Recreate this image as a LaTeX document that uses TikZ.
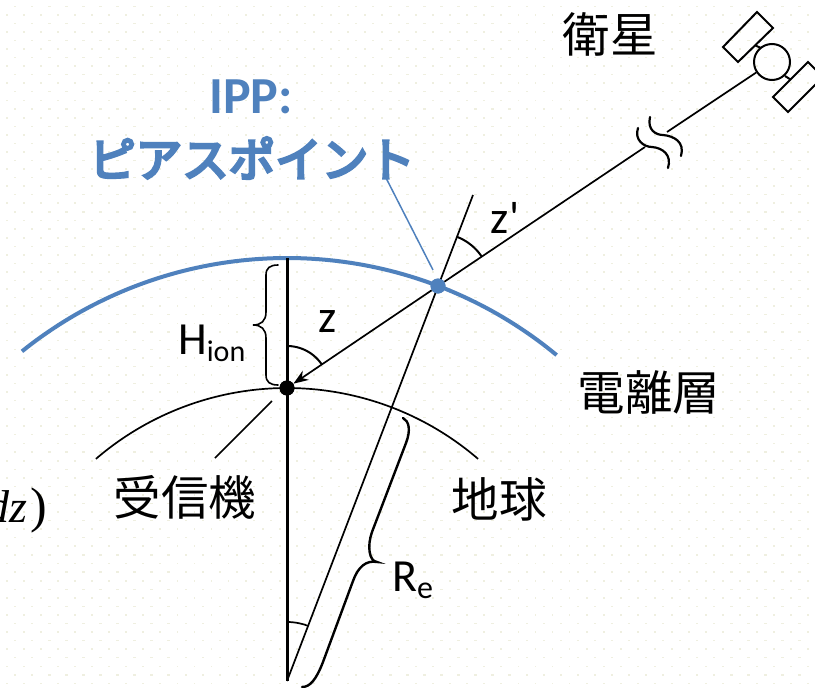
\documentclass[tikz,border=0pt]{standalone}
\usepackage{fontspec}
\usetikzlibrary{arrows.meta}
\setmainfont{Carlito}[Ligatures=TeXOff]
\newfontfamily\jpfont{Noto Sans CJK JP}
\newfontfamily\jpfontmed[FakeBold=6]{Noto Sans CJK JP}
\newfontfamily\serifit{Liberation Serif}
\definecolor{ippblue}{HTML}{4F81BD}
\definecolor{griddot}{HTML}{EFEFE0}
\tikzset{
  thinln/.style={black,line width=1.7pt},
  thickln/.style={black,line width=3pt},
  braceln/.style={black,line width=1.6pt,line cap=round},
  arcln/.style={black,line width=2pt},
  jplabel/.style={inner sep=0pt,font=\jpfont\fontsize{47.5}{52}\selectfont},
  latinlabel/.style={inner sep=0pt,font=\fontsize{46}{50}\selectfont},
  ipplabel/.style={inner sep=0pt,text=ippblue,font=\bfseries\fontsize{52}{56}\selectfont},
  dotnode/.style={circle,inner sep=0pt,minimum size=15pt},
}
\begin{document}
\begin{tikzpicture}[x=1pt,y=-1pt]
\useasboundingbox (0,0) rectangle (815,688);
\clip (0,0) rectangle (815,688);
\fill[white] (0,0) rectangle (815,688);
% dotted background
\foreach \i in {0,...,47}{\foreach \j in {0,...,40}{
  \fill[griddot] ({14+17.05*\i},{5.5+17.15*\j}) rectangle ++(2.4,1.2);
  \fill[griddot] ({6+17.05*\i},{13.8+17.15*\j}) rectangle ++(1.8,1.8);
}}
% named points
\coordinate (ctr) at (287,681);
\coordinate (top) at (287,258);
\coordinate (zeniTop) at (473,195);
\coordinate (brkA) at (645,147);
\coordinate (brkB) at (667,132);
\coordinate (rxA) at (272,401);
\coordinate (rxB) at (215,458);
\coordinate (ppA) at (384,174);
\coordinate (ppB) at (433,270);
% layers
\draw[ippblue,line width=4pt] plot[domain=-38.8:39.6,samples=90] ({287+423*sin(\x)},{681-423*cos(\x)});
\draw[thinln] plot[domain=-40.7:40.7,samples=90] ({287+293*sin(\x)},{681-293*cos(\x)});
% nodes
\node[dotnode,fill=black] (rx) at (287,388) {};
\node[dotnode,fill=ippblue] (ipp) at (438,286) {};
\node[circle,draw=black,line width=2pt,minimum size=36pt,inner sep=0pt] (satbody) at (772,62) {};
% lines
\draw[thickln] (top) -- (ctr);
\draw[thinln] (ctr) -- (zeniTop);
\draw[thinln,-{Stealth[length=15pt,width=11pt]}] (ipp) -- (rx);
\draw[thinln] (ipp) -- (brkA);
\draw[thinln] (brkB) -- (satbody);
\draw[ippblue,line width=1.5pt] (ppA) -- (ppB);
\node[dotnode,fill=ippblue] at (ipp) {};
\node[dotnode,fill=black] at (rx) {};
\draw[thinln] (rxA) -- (rxB);
% angle arcs
\draw[arcln] plot[domain=0:56,samples=30] ({287+42*sin(\x)},{388-42*cos(\x)});
\draw[arcln] plot[domain=21:56,samples=30] ({438+52.7*sin(\x)},{286-52.7*cos(\x)});
\draw[thinln] plot[domain=0:21,samples=20] ({287+59*sin(\x)},{681-59*cos(\x)});
% satellite
\draw[black,line width=2pt,line join=miter] (757,12) -- (773,28) -- (738,62) -- (723,47) -- cycle;
\draw[black,line width=2pt,line join=miter] (808,62) -- (823,77) -- (788,112) -- (773,97) -- cycle;
\draw[black,line width=2pt] (755.5,45.5) -- (761,48);
\draw[black,line width=2pt] (785,76) -- (790.5,79.5);
% line break marks
\draw[black,line width=2.2pt,line cap=round] (650,117) .. controls (647,130) and (656,135) .. (663,135) .. controls (674,136) and (685,142) .. (681,156);
\draw[black,line width=2.2pt,line cap=round] (638,128) .. controls (634,140) and (644,147) .. (652,147) .. controls (663,148) and (672,155) .. (668,168);
% H brace
\draw[braceln] (278,265) .. controls (270,265) and (266,268) .. (266,275) -- (266,312) .. controls (266,321) and (261,325) .. (253,325) .. controls (261,325) and (266,329) .. (266,338) -- (266,375) .. controls (266,382) and (270,385) .. (278,385);
% Re brace
\draw[black,line width=2.4pt,line cap=round] (403,418) .. controls (409,421) and (411,430) .. (406,443) -- (372,532) .. controls (367,546) and (369,561) .. (377,562) .. controls (366,560) and (358,567) .. (353,581) -- (323,662) .. controls (316,680) and (310,687) .. (302,687);
% labels
\node[jplabel] (sat) at (610,34) {衛星};
\node[ipplabel] (ipptitle) at (251,97) {IPP:};
\node[inner sep=0pt,text=ippblue,font=\jpfontmed\fontsize{46.5}{50}\selectfont] (ipptext) at (252,158) {ピアスポイント};
\node[jplabel] (ion) at (649,392) {電離層};
\node[jplabel] (rcv) at (185,497) {受信機};
\node[jplabel] (earth) at (499,499) {地球};
\node[latinlabel,anchor=base] (zlab) at (328,332) {z};
\node[latinlabel,anchor=base] (zplab) at (505,233) {z'};
\node[latinlabel,anchor=base west] (hlab) at (178,354) {H\fontsize{30}{30}\selectfont\raisebox{-7pt}{ion}};
\node[latinlabel,anchor=base west] (relab) at (392,591) {R\fontsize{32}{32}\selectfont\raisebox{-7pt}{e}};
\node[inner sep=0pt,anchor=base east,font=\serifit\fontsize{50}{54}\selectfont] (dz) at (47,522) {{\fontsize{46}{50}\selectfont\itshape dz}\kern3pt)};
\end{tikzpicture}
\end{document}
